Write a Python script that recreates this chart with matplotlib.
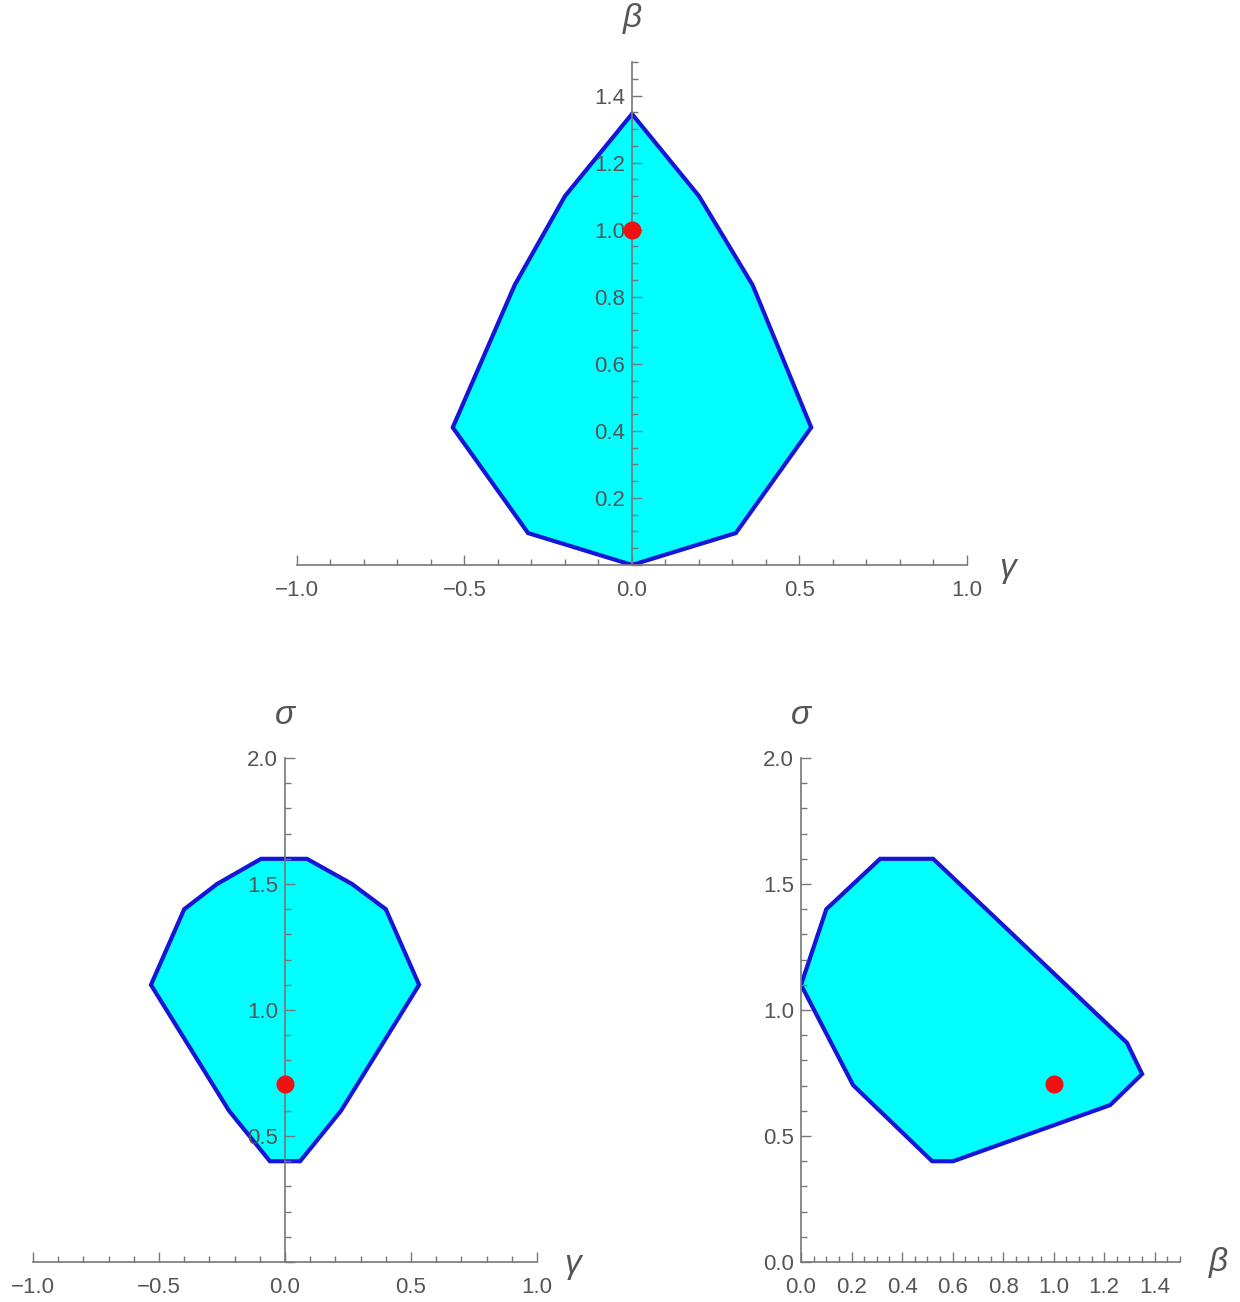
import matplotlib.pyplot as plt
from matplotlib.ticker import MultipleLocator, FuncFormatter

plt.rcParams['font.family'] = ['Liberation Sans', 'DejaVu Sans']

# region boundaries (vertices)
top_gamma = [0.0, 0.2, 0.36, 0.535, 0.31, 0.0, -0.31, -0.535, -0.35, -0.2]
top_beta = [1.345, 1.1, 0.835, 0.41, 0.095, 0.0, 0.095, 0.41, 0.835, 1.1]
top_point = (0.0, 1.0)

left_gamma = [0.087, 0.266, 0.4, 0.532, 0.222, 0.06, -0.06, -0.222, -0.532, -0.4, -0.27, -0.095]
left_sigma = [1.6, 1.5, 1.4, 1.1, 0.6, 0.4, 0.4, 0.6, 1.1, 1.4, 1.5, 1.6]
left_point = (0.0, 0.705)

right_beta = [0.0, 0.1, 0.313, 0.523, 1.29, 1.35, 1.224, 0.602, 0.519, 0.206]
right_sigma = [1.1, 1.4, 1.6, 1.6, 0.87, 0.746, 0.623, 0.4, 0.4, 0.702]
right_point = (1.0, 0.705)

GRAY = '#555555'
AXC = '#777777'


def setup(ax, xlim, ylim, xmaj, xmin, ymaj, ymin, hide_y0):
    ax.set_xlim(*xlim)
    ax.set_ylim(*ylim)
    ax.spines['left'].set_position(('data', 0))
    ax.spines['bottom'].set_position(('data', 0))
    ax.spines['top'].set_visible(False)
    ax.spines['right'].set_visible(False)
    for s in ('left', 'bottom'):
        ax.spines[s].set_color(AXC)
        ax.spines[s].set_linewidth(1.2)
    ax.xaxis.set_major_locator(MultipleLocator(xmaj))
    ax.xaxis.set_minor_locator(MultipleLocator(xmin))
    ax.yaxis.set_major_locator(MultipleLocator(ymaj))
    ax.yaxis.set_minor_locator(MultipleLocator(ymin))

    def fx(v, p):
        return f'{v:.1f}'.replace('-', '\u2212')

    def fy(v, p):
        if hide_y0 and abs(v) < 1e-9:
            return ''
        return f'{v:.1f}'

    ax.xaxis.set_major_formatter(FuncFormatter(fx))
    ax.yaxis.set_major_formatter(FuncFormatter(fy))
    ax.tick_params(which='both', direction='in', colors=AXC, labelcolor=GRAY,
                   labelsize=16, width=1.0)
    ax.tick_params(which='major', length=7)
    ax.tick_params(which='minor', length=4)
    ax.tick_params(axis='x', pad=11)
    ax.tick_params(axis='y', pad=5)


def region(ax, xs, ys, pt):
    ax.fill(xs, ys, facecolor='#00FFFF', edgecolor='#1515D8', linewidth=3,
            joinstyle='miter', zorder=1)
    ax.plot([pt[0]], [pt[1]], 'o', color='#EE1111', markersize=12, zorder=5)


def label(ax, x, y, s):
    ax.text(x, y, s, fontsize=24, color=GRAY, style='italic',
            ha='center', va='center', clip_on=False)


fig = plt.figure(figsize=(12.4, 13.02), dpi=100)

ax1 = fig.add_axes([0.2395, 0.5661, 0.5403, 0.3863])
region(ax1, top_gamma, top_beta, top_point)
setup(ax1, (-1, 1), (0, 1.5), 0.5, 0.1, 0.2, 0.05, True)
label(ax1, 0, 1.63, 'β')
label(ax1, 1.12, -0.01, 'γ')

ax2 = fig.add_axes([0.0266, 0.0307, 0.4065, 0.3871])
region(ax2, left_gamma, left_sigma, left_point)
setup(ax2, (-1, 1), (0, 2.0), 0.5, 0.1, 0.5, 0.1, True)
label(ax2, 0, 2.17, 'σ')
label(ax2, 1.14, -0.01, 'γ')

ax3 = fig.add_axes([0.646, 0.0307, 0.3056, 0.3871])
region(ax3, right_beta, right_sigma, right_point)
setup(ax3, (0, 1.5), (0, 2.0), 0.2, 0.05, 0.5, 0.1, False)
label(ax3, 0, 2.17, 'σ')
label(ax3, 1.65, 0.0, 'β')

fig.savefig('out.png', dpi=100, facecolor='white')
